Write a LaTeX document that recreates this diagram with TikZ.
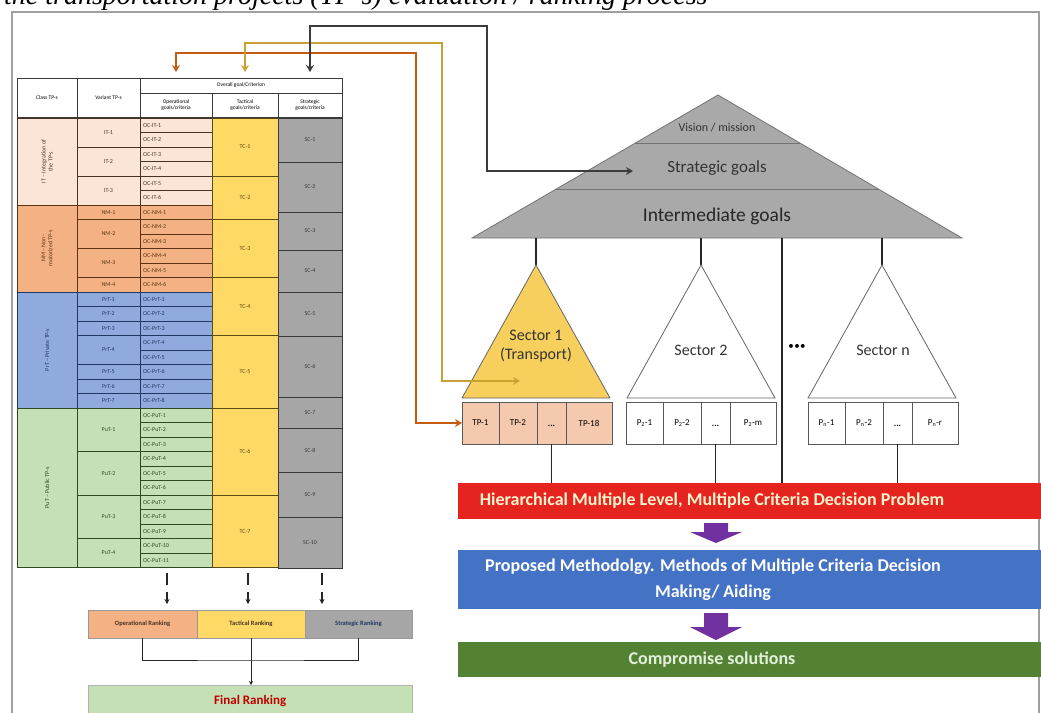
\documentclass[tikz,border=0pt]{standalone}
\usepackage{fontspec}
\setmainfont{Carlito}
\newfontfamily\capfont{Liberation Serif}
\usetikzlibrary{positioning,calc,arrows.meta}

\definecolor{itfill}{HTML}{FBE5D6}
\definecolor{itline}{HTML}{4A3325}
\definecolor{nmfill}{HTML}{F4B183}
\definecolor{nmline}{HTML}{5C3414}
\definecolor{prfill}{HTML}{8FAADC}
\definecolor{prline}{HTML}{1F3864}
\definecolor{pufill}{HTML}{C5E0B4}
\definecolor{puline}{HTML}{2E4A1E}
\definecolor{tcfill}{HTML}{FFD966}
\definecolor{tcline}{HTML}{5C4A10}
\definecolor{scfill}{HTML}{A6A6A6}
\definecolor{scline}{HTML}{3A3A3A}
\definecolor{pyrgray}{HTML}{A9A9A9}
\definecolor{secyellow}{HTML}{F7CF5C}
\definecolor{tpfill}{HTML}{F4C9AE}
\definecolor{arrorange}{HTML}{C55A11}
\definecolor{arryellow}{HTML}{C9A032}
\definecolor{arrdark}{HTML}{3C3C3C}
\definecolor{barred}{HTML}{E52420}
\definecolor{barblue}{HTML}{4472C4}
\definecolor{bargreen}{HTML}{548235}
\definecolor{barpurple}{HTML}{7030A0}
\definecolor{barcream}{HTML}{FFF2CC}
\definecolor{barlight}{HTML}{E2F0D9}
\definecolor{finalred}{HTML}{C00000}
\definecolor{framegray}{HTML}{A0A0A0}

% one row of project boxes under a sector
\newcommand{\prow}[6]{%
  \node[pcell, fill=#3, minimum width=37pt] (#1a) at (#2+18.5,423) {#4};
  \node[pcell, fill=#3, minimum width=38pt, right=0pt of #1a] (#1b) {#5};
  \node[pcell, fill=#3, minimum width=29pt, right=0pt of #1b] (#1c) {\raisebox{-7pt}{\textbf{...}}};
  \node[pcell, fill=#3, minimum width=46pt, right=0pt of #1c] (#1d) {#6};
}

\begin{document}
\begin{tikzpicture}[x=1pt,y=-1pt,
  tabtxt/.style={font=\fontsize{6}{7}\selectfont, inner sep=1pt},
  hcell/.style={draw=scline, fill=white, line width=0.7pt, font=\fontsize{5.5}{6.5}\selectfont, align=center, inner sep=0pt, outer sep=0pt},
  pcell/.style={draw=black!65, line width=0.7pt, minimum height=42pt, inner sep=0pt, outer sep=0pt, font=\fontsize{9}{10}\selectfont},
  link/.style={line width=1.3pt, black!85},
  goalarrow/.style={line width=2.4pt, {Stealth[length=7pt,width=8pt]}-{Stealth[length=7pt,width=8pt]}},
  rankbox/.style={draw=black!40, minimum width=108pt, minimum height=28pt, inner sep=0pt, outer sep=0pt, font=\bfseries\fontsize{6.5}{7}\selectfont},
  bartxt/.style={font=\bfseries\fontsize{18}{26}\selectfont, align=center},
  bar/.style={minimum width=587pt, anchor=north west, inner sep=0pt, outer sep=0pt}
]
\path[use as bounding box] (0,0) rectangle (1041,712);
\clip (0,0) rectangle (1041,712);
\fill[white] (0,0) rectangle (1041,712);

% caption and frame
\node[anchor=base west, inner sep=0pt, font=\capfont\itshape\fontsize{28}{32}\selectfont] (caption) at (4,5) {the transportation projects (TP-s) evaluation / ranking process};
\draw[framegray, line width=1.8pt] (12,12) rectangle (1039,730);

% ---------------- table ----------------
\node[hcell, minimum width=60pt, minimum height=39pt] (hclass) at (47,97.5) {Class TP-s};
\node[hcell, minimum width=63pt, minimum height=39pt] (hvar) at (108.5,97.5) {Variant TP-s};
\node[hcell, minimum width=202pt, minimum height=15pt] (hall) at (241,85.5) {Overall goal/Criterion};
\node[hcell, minimum width=72pt, minimum height=24pt] (hop) at (176,105) {Operational\\goals/criteria};
\node[hcell, minimum width=66pt, minimum height=24pt] (htac) at (245,105) {Tactical\\goals/criteria};
\node[hcell, minimum width=64pt, minimum height=24pt] (hstr) at (310,105) {Strategic\\goals/criteria};

% class column
\foreach \nm/\r/\s/\fc/\lc/\lab in {IT/0/6/itfill/itline/{IT -- Integration of\\the TP-s},
    NM/6/6/nmfill/nmline/{NM -- Non-\\motorized TP-s},
    PrT/12/8/prfill/prline/{PrT -- Private TP-s},
    PuT/20/11/pufill/puline/{PuT -- Public TP-s}} {
  \draw[\lc, fill=\fc, line width=0.7pt] (17,118+\r*14.5) rectangle (77,118+\r*14.5+\s*14.5);
  \node[tabtxt, text=\lc, rotate=90, align=center] (cl\nm) at (47,118+\r*14.5+\s*7.25) {\lab};
}

% variant column
\foreach \lab/\r/\s/\fc/\lc in {IT-1/0/2/itfill/itline, IT-2/2/2/itfill/itline, IT-3/4/2/itfill/itline,
    NM-1/6/1/nmfill/nmline, NM-2/7/2/nmfill/nmline, NM-3/9/2/nmfill/nmline, NM-4/11/1/nmfill/nmline,
    PrT-1/12/1/prfill/prline, PrT-2/13/1/prfill/prline, PrT-3/14/1/prfill/prline, PrT-4/15/2/prfill/prline,
    PrT-5/17/1/prfill/prline, PrT-6/18/1/prfill/prline, PrT-7/19/1/prfill/prline,
    PuT-1/20/3/pufill/puline, PuT-2/23/3/pufill/puline, PuT-3/26/3/pufill/puline, PuT-4/29/2/pufill/puline} {
  \draw[\lc, fill=\fc, line width=0.7pt] (77,118+\r*14.5) rectangle (140,118+\r*14.5+\s*14.5);
  \node[tabtxt, text=\lc] (var\r) at (108.5,118+\r*14.5+\s*7.25) {\lab};
}

% operational criteria
\foreach \sec/\first/\n/\fc/\lc in {IT/0/6/itfill/itline, NM/6/6/nmfill/nmline, PrT/12/8/prfill/prline, PuT/20/11/pufill/puline}
  \foreach \k in {1,...,\n} {
    \pgfmathsetmacro\yt{118+(\first+\k-1)*14.5}
    \draw[\lc, fill=\fc, line width=0.7pt] (140,\yt) rectangle ++(72,14.5);
    \node[tabtxt, text=\lc, anchor=west] (oc\sec\k) at (142,\yt+7.25) {OC-\sec-\k};
  }

% tactical criteria
\foreach \lab/\r/\s in {TC-1/0/4, TC-2/4/3, TC-3/7/4, TC-4/11/4, TC-5/15/5, TC-6/20/6, TC-7/26/5} {
  \draw[tcline, fill=tcfill, line width=0.7pt] (212,118+\r*14.5) rectangle (278,118+\r*14.5+\s*14.5);
  \node[tabtxt, text=tcline] (tc\r) at (245,118+\r*14.5+\s*7.25) {\lab};
}

% strategic criteria
\foreach \lab/\ya/\yb in {SC-1/118/162, SC-2/162/212, SC-3/212/250, SC-4/250/292, SC-5/292/336,
    SC-6/336/397, SC-7/397/428, SC-8/428/472, SC-9/472/517, SC-10/517/568} {
  \draw[scline, fill=scfill, line width=0.7pt] (278,\ya) rectangle (342,\yb);
  \node[tabtxt, text=scline] (sc\ya) at (310,{(\ya+\yb)/2}) {\lab};
}
\coordinate (tbot) at (0,568);

% rankings
\node[rankbox, fill=nmfill, minimum width=109pt, text=itline] (rop) at (142.5,624) {Operational Ranking};
\node[rankbox, fill=tcfill, right=0pt of rop, text=itline] (rtac) {Tactical Ranking};
\node[rankbox, fill=scfill, minimum width=107pt, right=0pt of rtac, text=prline] (rstr) {Strategic Ranking};
\node[draw=black!30, fill=pufill, minimum width=324pt, minimum height=32pt, anchor=north west,
  font=\bfseries\fontsize{13}{15}\selectfont, text=finalred] (final) at (88,685) {Final Ranking};

\foreach \x/\r in {167/rop, 248/rtac, 322/rstr} {
  \coordinate (dx) at (\x,0);
  \draw[black!85, line width=1.6pt, dash pattern=on 12pt off 7pt, shorten <=5pt, shorten >=6pt,
    -{Stealth[length=5pt,width=5pt]}] (dx |- tbot) -- (dx |- \r.north);
}
\coordinate (join) at ($(rtac.south)+(0,22)$);
\draw[link, line width=1pt] (rop.south) |- (join) -| (rstr.south);
\draw[link, line width=1pt] (rtac.south) -- (join);
\draw[link, line width=1pt, -{Stealth[length=4pt,width=4pt]}] (join) -- (join |- final.north);

% ---------------- pyramid ----------------
\filldraw[fill=pyrgray, draw=black!55, line width=0.8pt] (472,238) coordinate (pl) -- (718,95) coordinate (ptop) -- (962,238) coordinate (pr) -- cycle;
\draw[black!55, line width=0.8pt] (635,143) -- (800,143);
\draw[black!55, line width=0.8pt] (556,189) -- (878,189);
\node[font=\fontsize{12}{14}\selectfont, text=black!80] (vision) at (717,128) {Vision / mission};
\node[font=\fontsize{17}{20}\selectfont, text=black!80] (strat) at (717,168) {Strategic goals};
\node[font=\fontsize{19.5}{22}\selectfont, text=black!85] (inter) at (717,216) {Intermediate goals};

% sectors
\foreach \nm/\cx/\col in {s1/536/secyellow, s2/701/white, sn/882/white} {
  \coordinate (\nm top) at (\cx,265);
  \draw[link] (\nm top |- pl) -- (\nm top);
  \filldraw[fill=\col, draw=black!60, line width=0.8pt] (\nm top) -- ++(74,133) -- ++(-148,0) -- cycle;
}
\node[font=\fontsize{16}{19}\selectfont, align=center, text=black!80] (sec1) at (536,346) {Sector 1\\(Transport)};
\node[font=\fontsize{16}{19}\selectfont, text=black!80] (sec2) at (701,350) {Sector 2};
\node[font=\fontsize{16}{19}\selectfont, text=black!80] (secn) at (883,350) {Sector n};
\node[font=\fontsize{11}{12}\selectfont] (secdots) at (797,347) {\textbullet\kern0.5pt\textbullet\kern0.5pt\textbullet};

% projects
\prow{sa}{462}{tpfill}{TP-1}{TP-2}{TP-18}
\prow{sb}{626}{white}{P\textsubscript{2}-1}{P\textsubscript{2}-2}{P\textsubscript{2}-m}
\prow{sc}{808}{white}{P\textsubscript{n}-1}{P\textsubscript{n}-2}{P\textsubscript{n}-r}

% bars
\node[bar, fill=barred, minimum height=36pt] (hierbar) at (458,483) {};
\node[bar, fill=barblue, minimum height=59pt] (methbar) at (458,550) {};
\node[bar, fill=bargreen, minimum height=35pt] (compbar) at (458,642) {};
\node[bartxt, text=barcream] (hier) at (712,501) {Hierarchical Multiple Level, Multiple Criteria Decision Problem};
\node[bartxt, text=white] (meth) at (713,580) {Proposed Methodolgy. Methods of Multiple Criteria Decision\\Making/ Aiding};
\node[bartxt, text=barlight] (comp) at (712,660) {Compromise solutions};

\foreach \c in {sac, sbc, scc}
  \draw[link] (\c.south) -- (\c.south |- hierbar.north);
\coordinate (mid) at (782,0);
\draw[link] (mid |- pl) -- (mid |- hierbar.north);

% block arrows between the bars
\foreach \ya/\yb/\yc in {523/532/543, 613/627/640}
  \fill[barpurple] (704,\ya) -- (728,\ya) -- (728,\yb) -- (742,\yb) -- (716,\yc) -- (690,\yb) -- (704,\yb) -- cycle;

% links between table and hierarchy
\coordinate (tgtsec) at (520,381);
\coordinate (tgtgoal) at (633,171);
\draw[goalarrow, arrorange] ($(hop |- hall.north)+(0,-6)$) |- (416,53) |- (saa.west);
\draw[goalarrow, arryellow] ($(htac |- hall.north)+(0,-6)$) |- (442,43) |- (tgtsec);
\draw[goalarrow, arrdark] ($(hstr |- hall.north)+(0,-6)$) |- (487,26) |- (tgtgoal);
\end{tikzpicture}
\end{document}
